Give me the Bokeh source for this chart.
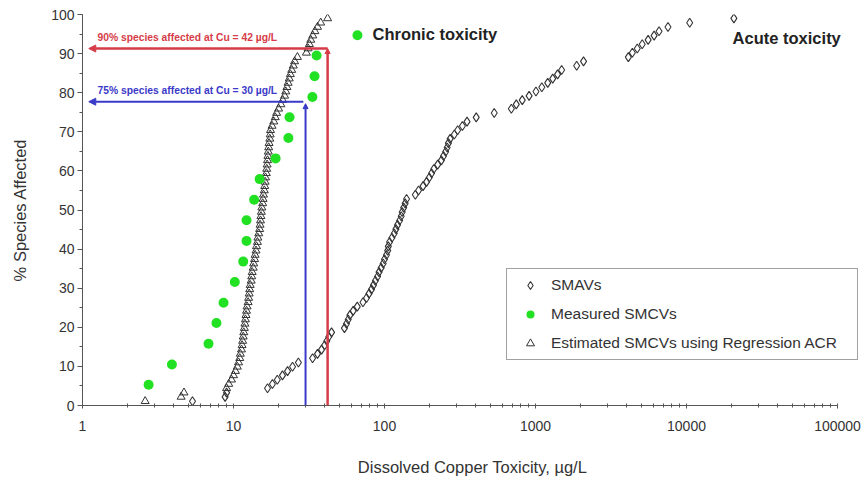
from bokeh.plotting import figure
from bokeh.models import (Legend, LegendItem, Label, Arrow, NormalHead, FixedTicker,
                          SingleIntervalTicker, PrintfTickFormatter, Range1d)
from bokeh.embed import file_html
from bokeh.resources import INLINE

# ---- data ----
smav_x = [5.35, 8.8, 9.0, 16.8, 18.1, 19.5, 21.1, 22.8, 24.6, 26.9,
          33.4, 36.0, 38.3, 40.1, 41.5, 42.8, 44.6, 54.3, 56.0, 57.5,
          59.0, 62.0, 66.0, 72.0, 76.0, 79.0, 82.0, 84.5, 87.0, 90.0,
          92.0, 95.0, 98.0, 100, 103, 105, 106, 108, 112, 116,
          119, 122, 126, 129, 131, 134, 137, 140, 160, 168,
          180, 190, 198, 205, 212, 225, 238, 246, 254, 260,
          265, 272, 290, 305, 328, 352, 405, 533, 692, 746,
          817, 907, 1007, 1101, 1205, 1300, 1400, 1490, 1873, 2080,
          4120, 4380, 4720, 5090, 5570, 6100, 6580, 7540, 10500, 20600]
smav_y = [1.1, 2.2, 3.3, 4.4, 5.5, 6.6, 7.7, 8.8, 9.9, 11.0,
          12.1, 13.2, 14.3, 15.4, 16.5, 17.6, 18.7, 19.8, 20.9, 22.0,
          23.1, 24.2, 25.3, 26.4, 27.5, 28.6, 29.7, 30.8, 31.9, 33.0,
          34.1, 35.2, 36.3, 37.4, 38.5, 39.6, 40.7, 41.8, 42.9, 44.0,
          45.1, 46.2, 47.3, 48.4, 49.5, 50.6, 51.7, 52.8, 53.9, 55.0,
          56.1, 57.2, 58.3, 59.4, 60.5, 61.6, 62.7, 63.8, 64.9, 66.0,
          67.1, 68.2, 69.3, 70.4, 71.5, 72.6, 73.7, 74.8, 75.9, 77.0,
          78.1, 79.2, 80.3, 81.4, 82.5, 83.6, 84.7, 85.8, 86.9, 88.0,
          89.1, 90.2, 91.3, 92.4, 93.5, 94.6, 95.7, 96.8, 97.9, 99.0]

est_x = [2.6, 4.5, 4.7, 9.0, 9.3, 9.7, 10.0, 10.3, 10.6, 10.8,
         11.0, 11.1, 11.3, 11.4, 11.5, 11.6, 11.7, 11.8, 11.9, 12.0,
         12.1, 12.2, 12.3, 12.5, 12.6, 12.7, 12.8, 12.9, 13.1, 13.2,
         13.3, 13.5, 13.6, 13.8, 13.9, 14.1, 14.2, 14.4, 14.5, 14.7,
         14.9, 15.0, 15.1, 15.2, 15.3, 15.4, 15.6, 15.7, 15.8, 16.0,
         16.1, 16.2, 16.3, 16.5, 16.6, 16.7, 16.8, 16.9, 17.0, 17.1,
         17.2, 17.4, 17.5, 17.6, 18.0, 18.5, 18.9, 19.3, 19.9, 20.6,
         21.2, 21.8, 22.2, 22.6, 23.0, 23.4, 23.8, 24.3, 24.9, 25.4,
         26.5, 30.4, 31.2, 31.8, 32.5, 33.5, 34.6, 36.0, 37.8, 42.0]
est_y = [1.1, 2.2, 3.3, 4.4, 5.5, 6.6, 7.7, 8.8, 9.9, 11.0,
         12.1, 13.2, 14.3, 15.4, 16.5, 17.6, 18.7, 19.8, 20.9, 22.0,
         23.1, 24.2, 25.3, 26.4, 27.5, 28.6, 29.7, 30.8, 31.9, 33.0,
         34.1, 35.2, 36.3, 37.4, 38.5, 39.6, 40.7, 41.8, 42.9, 44.0,
         45.1, 46.2, 47.3, 48.4, 49.5, 50.6, 51.7, 52.8, 53.9, 55.0,
         56.1, 57.2, 58.3, 59.4, 60.5, 61.6, 62.7, 63.8, 64.9, 66.0,
         67.1, 68.2, 69.3, 70.4, 71.5, 72.6, 73.7, 74.8, 75.9, 77.0,
         78.1, 79.2, 80.3, 81.4, 82.5, 83.6, 84.7, 85.8, 86.9, 88.0,
         89.1, 90.2, 91.3, 92.4, 93.5, 94.6, 95.7, 96.8, 97.9, 99.0]

meas_x = [2.74, 3.91, 6.83, 7.71, 8.59, 10.2, 11.6, 12.2, 12.2, 13.7,
          14.9, 19.0, 23.1, 23.5, 33.3, 34.4, 35.5, 66.2]
meas_y = [5.3, 10.5, 15.8, 21.1, 26.3, 31.6, 36.8, 42.1, 47.4, 52.6,
          57.9, 63.2, 68.4, 73.7, 78.9, 84.2, 89.5, 94.7]

x_major = [1, 10, 100, 1000, 10000, 100000]
cu90, pct90 = 42, 91.3
cu75, pct75 = 30, 77.7

FONT = "Liberation Sans"
RED = "#d63c48"
BLUE = "#3a3ac8"

# layout: 151 px per decade; frame extends a little past 100000 so that
# the legend and the "Acute toxicity" label are not clipped by the frame
W, H = 864, 478
BL, BR = 82, 2
DECADE_PX = 151
x_end = 10 ** ((W - BL - BR) / DECADE_PX)

p = figure(width=W, height=H, x_axis_type="log",
           x_range=Range1d(1, x_end), y_range=Range1d(0, 100),
           output_backend="svg", toolbar_location=None,
           min_border_left=BL, min_border_right=BR, min_border_top=14,
           min_border_bottom=73)
p.outline_line_color = None
p.xgrid.grid_line_color = None
p.ygrid.grid_line_color = None
p.background_fill_color = "white"

# axes
minor = [m * 10 ** k for k in range(5) for m in range(2, 10)]
p.xaxis.ticker = FixedTicker(ticks=x_major, minor_ticks=minor)
p.xaxis.formatter = PrintfTickFormatter(format="%d")
p.xaxis.bounds = (x_major[0], x_major[-1])
p.yaxis.ticker = SingleIntervalTicker(interval=10, num_minor_ticks=2)
for ax in (p.xaxis, p.yaxis):
    ax.axis_line_color = "#555555"
    ax.major_tick_line_color = "#555555"
    ax.minor_tick_line_color = "#555555"
    ax.major_label_text_font = FONT
    ax.major_label_text_font_size = "14px"
    ax.major_label_text_color = "#333333"
    ax.axis_label_text_font = FONT
    ax.axis_label_text_font_size = "16.5px"
    ax.axis_label_text_font_style = "normal"
    ax.axis_label_text_color = "#333333"
p.xaxis.major_tick_in = 2
p.xaxis.major_tick_out = 3
p.xaxis.minor_tick_in = 2
p.xaxis.minor_tick_out = 2
p.xaxis.major_label_standoff = 12
p.xaxis.axis_label = "Dissolved Copper Toxicity, \u00b5g/L"
p.xaxis.axis_label_standoff = 24
p.yaxis.major_tick_in = 0
p.yaxis.major_tick_out = 5
p.yaxis.minor_tick_in = 0
p.yaxis.minor_tick_out = 3
p.yaxis.major_label_standoff = 3
p.yaxis.axis_label = "% Species Affected"
p.yaxis.axis_label_standoff = 19

# guide lines with arrows
p.add_layout(Arrow(x_start=cu90, y_start=0, x_end=cu90, y_end=pct90,
                   line_color=RED, line_width=2.5,
                   end=NormalHead(size=5, fill_color=RED, line_color=RED)))
p.add_layout(Arrow(x_start=cu90, y_start=pct90, x_end=1.1, y_end=pct90,
                   line_color=RED, line_width=2.5,
                   end=NormalHead(size=7, fill_color=RED, line_color=RED)))
p.add_layout(Arrow(x_start=cu75, y_start=0, x_end=cu75, y_end=pct75 - 0.5,
                   line_color=BLUE, line_width=2,
                   end=NormalHead(size=5, fill_color=BLUE, line_color=BLUE)))
p.add_layout(Arrow(x_start=cu75 - 1, y_start=pct75, x_end=1.1, y_end=pct75,
                   line_color=BLUE, line_width=2,
                   end=NormalHead(size=7, fill_color=BLUE, line_color=BLUE)))

# data
r_smav = p.scatter(smav_x, smav_y, marker="diamond", size=9, fill_color=None,
                   line_color="#333333", line_width=1.1)
r_est = p.scatter(est_x, est_y, marker="triangle", size=8, fill_color=None,
                  line_color="#333333", line_width=1.0)
r_meas = p.scatter(meas_x, meas_y, marker="circle", size=10, fill_color="#22e022",
                   line_color=None)

# texts
p.add_layout(Label(x=1.257, y=94.1, text="90% species affected at Cu = 42 \u00b5g/L",
                   text_font=FONT, text_font_size="10.3px", text_font_style="bold",
                   text_color=RED, text_baseline="middle"))
p.add_layout(Label(x=1.257, y=80.6, text="75% species affected at Cu = 30 \u00b5g/L",
                   text_font=FONT, text_font_size="10.3px", text_font_style="bold",
                   text_color=BLUE, text_baseline="middle"))
p.add_layout(Label(x=83.3, y=95.1, text="Chronic toxicity",
                   text_font=FONT, text_font_size="16.5px", text_font_style="bold",
                   text_color="#222222", text_baseline="middle"))
p.add_layout(Label(x=20200, y=94.1, text="Acute toxicity",
                   text_font=FONT, text_font_size="16.5px", text_font_style="bold",
                   text_color="#222222", text_baseline="middle"))

legend = Legend(items=[LegendItem(label="SMAVs", renderers=[r_smav]),
                       LegendItem(label="Measured SMCVs", renderers=[r_meas]),
                       LegendItem(label="Estimated SMCVs using Regression ACR", renderers=[r_est])],
                location=(424, 45), margin=0, padding=6, spacing=9,
                glyph_width=34, glyph_height=20, label_height=20, label_standoff=4,
                label_width=300,
                label_text_font=FONT, label_text_font_size="15.5px",
                label_text_color="#333333",
                border_line_color="#444444", border_line_width=1,
                background_fill_color="white", background_fill_alpha=1)
p.add_layout(legend)

open("out.html", "w").write(file_html(p, INLINE))
